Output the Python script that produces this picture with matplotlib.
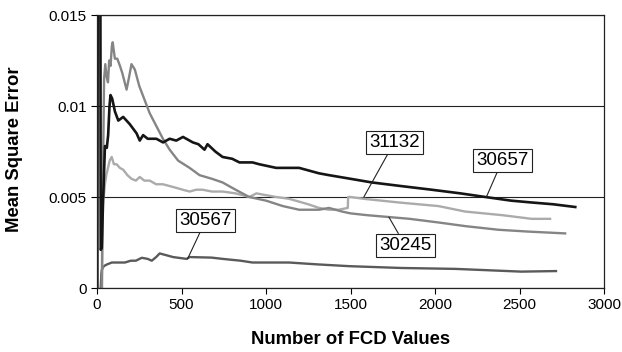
import numpy as np
from matplotlib import pyplot as plt

plt.rcParams['font.family'] = ['Liberation Sans', 'DejaVu Sans']

# series 30657 (black)
x_30657 = [2, 6, 18, 22, 28, 35, 47, 58, 66, 74, 80, 90, 106, 126, 155, 194, 234, 253,
           273, 300, 351, 391, 430, 469, 509, 567, 600, 636, 654, 700, 743, 800, 843,
           920, 960, 1060, 1196, 1314, 1373, 1500, 1626, 1800, 1980, 2150, 2298, 2450,
           2570, 2700, 2830]
y_30657 = [0, 0.03, 0.03, 0.0021, 0.0022, 0.0045, 0.0078, 0.0077, 0.0084, 0.0100, 0.0106,
           0.0104, 0.0097, 0.0092, 0.0094, 0.0090, 0.0085, 0.0081, 0.0084, 0.0082, 0.0082,
           0.0080, 0.0082, 0.0081, 0.0083, 0.0080, 0.0079, 0.0076, 0.0079, 0.0075, 0.0072,
           0.0071, 0.0069, 0.0069, 0.0068, 0.0066, 0.0066, 0.0063, 0.0062, 0.0060, 0.0058,
           0.0056, 0.0054, 0.0052, 0.0050, 0.0048, 0.0047, 0.0046, 0.00445]

# series 30245 (mid grey)
x_30245 = [28, 35, 42, 49, 57, 65, 72, 80, 88, 93, 100, 106, 120, 136, 150, 175, 190, 204,
           224, 250, 283, 312, 351, 390, 430, 480, 548, 607, 680, 743, 820, 901, 1000,
           1100, 1196, 1314, 1373, 1450, 1500, 1600, 1726, 1850, 2021, 2179, 2375, 2550,
           2770]
y_30245 = [0.0, 0.006, 0.0115, 0.0123, 0.0116, 0.0113, 0.0125, 0.0122, 0.0133, 0.0135,
           0.0130, 0.0126, 0.0126, 0.0122, 0.0118, 0.0109, 0.0116, 0.0123, 0.0120, 0.0111,
           0.0103, 0.0096, 0.0089, 0.0082, 0.0076, 0.0070, 0.0066, 0.0062, 0.0060, 0.0058,
           0.0054, 0.0050, 0.0048, 0.0045, 0.0043, 0.0043, 0.0044, 0.0042, 0.0041, 0.0040,
           0.0039, 0.0038, 0.0036, 0.0034, 0.0032, 0.0031, 0.0030]

# series 31132 (light grey)
x_31132 = [30, 35, 40, 47, 55, 65, 75, 87, 100, 116, 135, 155, 180, 204, 230, 253, 280,
           312, 350, 390, 430, 470, 507, 548, 587, 625, 680, 743, 820, 901, 943, 1000,
           1060, 1137, 1250, 1314, 1373, 1430, 1484, 1486, 1500, 1579, 1785, 2021, 2179,
           2400, 2572, 2681]
y_31132 = [0.0, 0.0058, 0.0050, 0.0057, 0.0062, 0.0066, 0.0070, 0.0072, 0.0068, 0.0068,
           0.0066, 0.0065, 0.0062, 0.0060, 0.0059, 0.0061, 0.0059, 0.0059, 0.0057, 0.0057,
           0.0056, 0.0055, 0.0054, 0.0053, 0.0054, 0.0054, 0.0053, 0.0053, 0.0052, 0.0050,
           0.0052, 0.0051, 0.0050, 0.0049, 0.0046, 0.0044, 0.0043, 0.0043, 0.0044, 0.0050,
           0.0050, 0.0049, 0.0047, 0.0045, 0.0042, 0.0040, 0.0038, 0.0038]

# series 30567 (dark grey)
x_30567 = [22, 26, 29, 40, 60, 88, 120, 165, 200, 230, 265, 300, 324, 350, 371, 450, 530,
           548, 678, 743, 850, 920, 1137, 1300, 1491, 1800, 2121, 2510, 2716]
y_30567 = [0.0, 0.0008, 0.0010, 0.0012, 0.0013, 0.0014, 0.0014, 0.0014, 0.0015, 0.0015,
           0.00166, 0.0016, 0.0015, 0.0017, 0.0019, 0.0017, 0.0016, 0.0017, 0.00167, 0.0016,
           0.0015, 0.0014, 0.0014, 0.0013, 0.0012, 0.0011, 0.00105, 0.0009, 0.00093]

# label text, point on the curve, box centre
labels = ['30567', '31132', '30657', '30245']
label_pts = [(536, 0.0016), (1579, 0.0050), (2304, 0.0050), (1727, 0.0039)]
label_box = [(642, 0.0037), (1759, 0.0080), (2398, 0.0070), (1824, 0.00233)]

fig = plt.figure(figsize=(6.22, 3.52), dpi=100)
ax = fig.add_axes([97 / 622, 1 - 288 / 352, 507 / 622, 273 / 352])

ax.plot(x_30567, y_30567, color='#5a5a5a', lw=1.7)
ax.plot(x_31132, y_31132, color='#ababab', lw=1.7)
ax.plot(x_30245, y_30245, color='#858585', lw=1.7)
ax.plot(x_30657, y_30657, color='#151515', lw=1.9)

ax.set_xlim(0, 3000)
ax.set_ylim(0, 0.015)
ax.set_xticks([0, 500, 1000, 1500, 2000, 2500, 3000])
ax.set_yticks([0, 0.005, 0.01, 0.015])
ax.set_yticklabels(['0', '0.005', '0.01', '0.015'])
ax.tick_params(labelsize=11, length=4, width=0.8, direction='out')
for s in ax.spines.values():
    s.set_linewidth(0.9)
    s.set_color('#222222')
ax.yaxis.grid(True, color='#222222', lw=0.8)
ax.set_axisbelow(True)

for txt, pt, box in zip(labels, label_pts, label_box):
    ax.annotate(txt, xy=pt, xytext=box, ha='center', va='center', fontsize=13.5,
                bbox=dict(boxstyle='square,pad=0.17', fc='white', ec='#222222', lw=0.8),
                arrowprops=dict(arrowstyle='-', color='#222222', lw=0.8,
                                shrinkA=0, shrinkB=0))

ax.set_xlabel('Number of FCD Values', fontsize=13.3, fontweight='bold')
ax.set_ylabel('Mean Square Error', fontsize=13.3, fontweight='bold')
ax.xaxis.set_label_coords(0.5, -0.157)
ax.yaxis.set_label_coords(-0.145, 0.51)

plt.savefig('out.png', dpi=100)
